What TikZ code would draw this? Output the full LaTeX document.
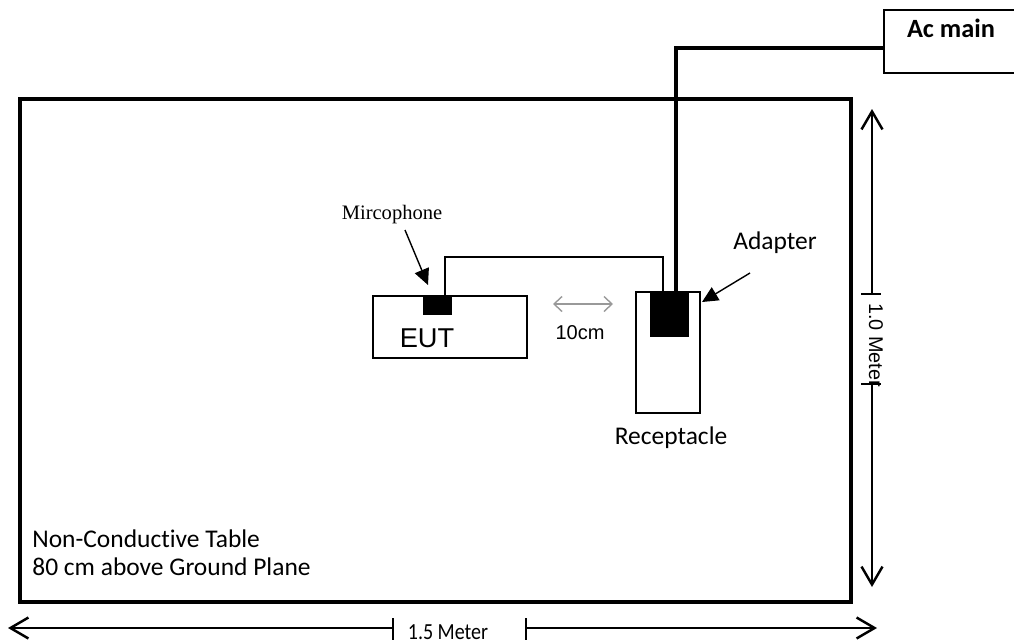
\documentclass[tikz,border=0pt]{standalone}
\usepackage{fontspec}
\setmainfont{Carlito}[Ligatures=NoCommon]
\newfontfamily\arialfont{Liberation Sans}
\newfontfamily\timesfont{Liberation Serif}
\usepackage{tikz}
\usetikzlibrary{arrows.meta, positioning, calc}

\tikzset{
    box/.style={draw, line width=0.8pt, inner sep=0pt, minimum width=#1},
    plug/.style={fill=black, draw=black, inner sep=0pt},
    txt/.style={inner sep=0pt, font=\fontsize{14.5}{16}\selectfont},
    barb/.tip={Straight Barb[length=0.36cm, width=0.42cm, line width=1.4pt]},
    pointer/.style={line width=0.8pt, -{Triangle[length=0.32cm, width=0.3cm]}},
    cable/.style={line width=2pt},
    tick/.style={line width=0.8pt},
}

\begin{document}
\begin{tikzpicture}[x=0.02cm, y=-0.02cm]
    \useasboundingbox (0,0) rectangle (1014,643);

    % Table and the boxes on it
    \node[box=16.62cm, minimum height=10.06cm, line width=2pt] (table) at (435.5,350.5) {};
    \node[box=3.08cm, minimum height=1.24cm] (eut) at (450,327) {};
    \node[plug, minimum width=0.56cm, minimum height=0.36cm] (mic) at (437,305) {};
    \node[box=1.28cm, minimum height=2.42cm] (recep) at (668,352.5) {};
    \node[plug, minimum width=0.76cm, minimum height=0.88cm] (adapter) at (669,314) {};
    \node[box=2.72cm, minimum height=1.26cm] (acmain) at (952,41.5) {};

    % Labels
    \node[txt, font=\arialfont\fontsize{15.5}{17}\selectfont] (eutlbl) at (427,338) {EUT};
    \node[txt, font=\timesfont\fontsize{11.7}{13}\selectfont] (miclbl) at (392,215) {Mircophone};
    \node[txt] (adaptlbl) at (775,243) {Adapter};
    \node[txt] (receplbl) at (671,438) {Receptacle};
    \node[txt, font=\bfseries\fontsize{15}{17}\selectfont] (aclbl) at (951,28) {Ac main};
    \node[txt, font=\arialfont\fontsize{11.4}{13}\selectfont] (distlbl) at (580,333) {10cm};
    \node[txt, anchor=base west] (tbl1) at (32,547) {Non-Conductive Table};
    \node[txt, anchor=base west] (tbl2) at (32,575) {80 cm above Ground Plane};

    % Cables
    \coordinate (bend) at (676,48);
    \draw[cable] (bend -| acmain.west) -- (bend) -- (bend |- adapter.north);
    \coordinate (wireL) at (445,257);
    \coordinate (wireR) at (663,257);
    \draw[line width=0.6pt] (wireL |- mic.north) -- (wireL) -- (wireR) -- (wireR |- adapter.north);

    % Pointers
    \coordinate (micfrom) at (405,230);
    \coordinate (micto) at (428,285);
    \draw[pointer] (micfrom) -- (micto);
    \coordinate (adfrom) at (750,273);
    \coordinate (adto) at (702,302);
    \draw[pointer] (adfrom) -- (adto);

    % 10cm gap
    \coordinate (gapL) at (553,304);
    \coordinate (gapR) at (613,304);
    \draw[gray!80, line width=0.8pt, {Straight Barb[length=0.16cm, width=0.3cm]}-{Straight Barb[length=0.16cm, width=0.3cm]}] (gapL) -- (gapR);

    % Width of the table
    \coordinate (wL) at (8,628);
    \coordinate (wR) at (877,628);
    \coordinate (wt1) at (393,628);
    \coordinate (wt2) at (526,628);
    \draw[line width=1pt, barb-] (wL) -- (wt1);
    \draw[line width=1pt, -barb] (wt2) -- (wR);
    \draw[tick] ($(wt1)+(0,-10)$) -- ($(wt1)+(0,12)$);
    \draw[tick] ($(wt2)+(0,-10)$) -- ($(wt2)+(0,12)$);
    \node[txt, font=\fontsize{11.4}{13}\selectfont, yscale=1.15] (wlbl) at (448,632) {1.5 Meter};

    % Height of the table
    \coordinate (hT) at (872,109);
    \coordinate (hB) at (872,587);
    \coordinate (ht1) at (872,294);
    \coordinate (ht2) at (872,384);
    \draw[line width=1pt, barb-] (hT) -- (ht1);
    \draw[line width=1pt, -barb] (ht2) -- (hB);
    \draw[tick] ($(ht1)+(-11,0)$) -- ($(ht1)+(9,0)$);
    \draw[tick] ($(ht2)+(-11,0)$) -- ($(ht2)+(9,0)$);
    \node[txt, rotate=-90, font=\arialfont\fontsize{11.3}{13}\selectfont] (hlbl) at (876,345) {1.0 Meter};
\end{tikzpicture}
\end{document}
